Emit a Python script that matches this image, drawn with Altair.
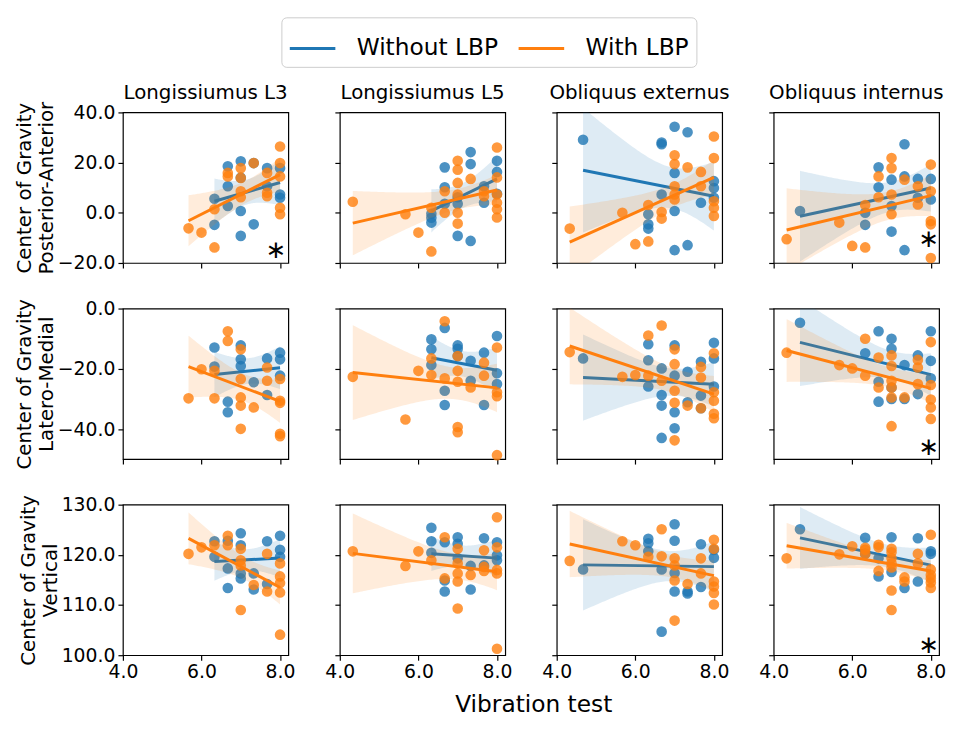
import numpy as np
import pandas as pd
import altair as alt

BLUE = "#1f77b4"
ORANGE = "#ff7f0e"
FONT = "DejaVu Sans"
GROUPS = ["Without LBP", "With LBP"]
COL_TITLES = ["Longissiumus L3", "Longissiumus L5", "Obliquus externus", "Obliquus internus"]
ROW_TITLES = [["Center of Gravity", "Posterior-Anterior"],
              ["Center of Gravity", "Latero-Medial"],
              ["Center of Gravity", "Vertical"]]
X_TICKS = [4, 6, 8]
Y_TICKS = [[-20, 0, 20, 40], [-40, -20, 0], [100, 110, 120, 130]]
X_DOMAIN = [4.0, 8.21]
Y_DOMAINS = [[-20, 40], [-49.8, 0], [100, 130]]

# ---- Row 1: Posterior-Anterior ----
PA_L3_WO = [(6.33, 5.6), (6.33, -4.8), (6.67, 18.5), (6.67, 10.6), (6.67, 2.7), (7.0, 20.5), (7.0, 14.0),
            (7.0, 0.7), (7.0, -9.2), (7.33, 19.8), (7.33, -4.6), (7.67, 17.8), (7.67, 10.6), (8.0, 17.8),
            (8.0, 7.3), (8.0, 6.0)]
PA_L3_WI = [(5.67, -6.2), (6.0, -7.9), (6.33, 1.4), (6.33, -13.8), (6.67, 15.9), (6.67, 14.5), (7.0, 17.8),
            (7.0, 13.9), (7.0, 8.6), (7.0, 6.2), (7.33, 19.8), (7.67, 15.9), (7.67, 8.0), (7.67, 6.6),
            (8.0, 26.4), (8.0, 19.8), (8.0, 14.5), (8.0, 2.0), (8.0, -0.6)]
PA_L5_WO = [(6.33, -0.4), (6.33, -2.0), (6.33, -3.9), (6.67, 18.1), (6.67, 10.2), (6.67, 3.6), (7.0, 6.2),
            (7.0, 3.6), (7.0, -9.2), (7.33, 24.2), (7.33, 19.4), (7.33, -11.2), (7.67, 10.6), (7.67, 4.0),
            (8.0, 20.7), (8.0, 16.3), (8.0, 7.6)]
PA_L5_WI = [(4.33, 4.4), (5.67, -0.6), (6.0, -7.9), (6.33, 2.0), (6.33, -15.4), (6.67, 8.6), (6.67, 0.0),
            (7.0, 20.7), (7.0, 17.2), (7.0, 11.9), (7.0, 7.3), (7.0, 0.0), (7.0, -4.3), (7.33, 13.5),
            (7.67, 8.6), (7.67, 6.6), (8.0, 26.0), (8.0, 14.1), (8.0, 7.3), (8.0, 4.0), (8.0, 1.4), (8.0, -1.9)]
PA_OE_WO = [(4.67, 29.1), (6.33, -0.6), (6.33, -4.6), (6.33, -6.3), (6.67, 28.0), (6.67, 27.3), (6.67, 7.3),
            (7.0, 34.3), (7.0, 15.9), (7.0, 0.7), (7.0, -14.9), (7.33, 32.1), (7.33, -12.9), (7.67, 4.0),
            (8.0, 12.6), (8.0, 9.9), (8.0, 6.0)]
PA_OE_WI = [(4.33, -6.3), (5.67, 0.0), (6.0, -12.5), (6.33, 3.1), (6.33, -11.4), (6.67, 0.3), (6.67, -2.3),
            (7.0, 22.9), (7.0, 19.4), (7.0, 10.6), (7.0, 7.3), (7.0, 5.3), (7.33, 18.1), (7.67, 16.3),
            (7.67, 10.6), (8.0, 30.4), (8.0, 21.8), (8.0, 4.6), (8.0, 2.0), (8.0, -1.3)]
PA_OI_WO = [(4.67, 0.7), (6.33, 0.0), (6.33, -4.8), (6.67, 18.1), (6.67, 10.2), (7.0, 13.2), (7.0, 2.7),
            (7.0, -7.5), (7.33, 27.3), (7.33, 14.5), (7.33, -14.9), (7.67, 13.5), (7.67, 6.0), (8.0, 13.5),
            (8.0, 5.3)]
PA_OI_WI = [(4.33, -10.5), (5.67, -3.9), (6.0, -13.2), (6.33, 3.1), (6.33, -13.8), (6.67, 14.5), (6.67, 6.2),
            (7.0, 21.8), (7.0, 17.8), (7.0, 7.3), (7.0, -0.6), (7.33, 13.2), (7.67, 10.6), (7.67, 3.3),
            (8.0, 19.2), (8.0, 8.6), (8.0, -3.3), (8.0, -4.6), (8.0, -18.0)]

# ---- Row 2: Latero-Medial ----
LM_L3_WO = [(6.33, -12.9), (6.33, -19.2), (6.67, -30.8), (6.67, -34.3), (7.0, -12.2), (7.0, -16.8),
            (7.0, -19.0), (7.33, -24.4), (7.67, -16.5), (7.67, -28.6), (8.0, -14.6), (8.0, -16.8), (8.0, -22.2)]
LM_L3_WI = [(5.67, -29.7), (6.0, -20.1), (6.33, -29.7), (6.33, -20.6), (6.67, -7.5), (6.67, -10.7),
            (7.0, -13.5), (7.0, -23.3), (7.0, -29.4), (7.0, -32.1), (7.0, -39.8), (7.33, -32.7), (7.67, -19.5),
            (7.67, -23.9), (8.0, -23.3), (8.0, -30.5), (8.0, -31.2), (8.0, -41.4), (8.0, -42.2)]
LM_L5_WO = [(6.33, -10.2), (6.33, -13.5), (6.33, -18.7), (6.67, -6.4), (6.67, -27.2), (6.67, -31.9),
            (7.0, -12.2), (7.0, -13.3), (7.0, -15.7), (7.33, -17.3), (7.33, -23.9), (7.67, -14.6),
            (7.67, -31.9), (8.0, -9.1), (8.0, -21.4), (8.0, -25.0)]
LM_L5_WI = [(4.33, -22.6), (5.67, -36.7), (6.0, -20.6), (6.33, -16.5), (6.33, -22.0), (6.67, -4.2),
            (6.67, -23.1), (7.0, -15.7), (7.0, -20.6), (7.0, -24.2), (7.0, -39.2), (7.0, -40.9), (7.33, -26.1),
            (7.67, -17.9), (7.67, -22.2), (8.0, -12.9), (8.0, -27.7), (8.0, -29.0), (8.0, -48.5)]
LM_OE_WO = [(4.67, -16.5), (6.33, -11.8), (6.33, -17.1), (6.33, -25.8), (6.67, -19.8), (6.67, -28.6),
            (6.67, -32.1), (6.67, -42.8), (7.0, -12.2), (7.0, -22.2), (7.0, -34.3), (7.0, -39.6), (7.33, -20.9),
            (7.33, -31.0), (7.67, -17.6), (7.67, -28.8), (7.67, -33.0), (8.0, -11.3), (8.0, -16.5), (8.0, -25.8)]
LM_OE_WI = [(4.33, -14.4), (5.67, -22.6), (6.0, -22.0), (6.33, -8.9), (6.33, -22.2), (6.67, -5.6),
            (6.67, -23.9), (7.0, -13.5), (7.0, -18.4), (7.0, -27.2), (7.0, -31.2), (7.0, -43.6), (7.33, -32.1),
            (7.67, -19.3), (7.67, -22.8), (7.67, -33.0), (8.0, -14.8), (8.0, -27.7), (8.0, -30.5),
            (8.0, -34.8), (8.0, -36.3)]
LM_OI_WO = [(4.67, -4.7), (6.33, -14.8), (6.67, -7.5), (6.67, -24.2), (6.67, -30.8), (7.0, -10.0),
            (7.0, -13.3), (7.0, -26.1), (7.0, -29.9), (7.33, -18.7), (7.33, -29.9), (7.67, -15.5),
            (7.67, -28.3), (8.0, -7.5), (8.0, -17.3), (8.0, -23.1)]
LM_OI_WI = [(4.33, -14.6), (5.67, -18.7), (6.0, -19.8), (6.33, -10.0), (6.33, -22.2), (6.67, -16.2),
            (6.67, -26.1), (7.0, -15.5), (7.0, -19.0), (7.0, -23.9), (7.0, -26.1), (7.0, -29.4), (7.0, -38.9),
            (7.33, -29.4), (7.67, -17.0), (7.67, -19.5), (7.67, -25.0), (8.0, -11.1), (8.0, -25.3),
            (8.0, -30.1), (8.0, -32.7), (8.0, -36.5)]

# ---- Row 3: Vertical ----
VT_L3_WO = [(6.33, 122.7), (6.33, 119.6), (6.67, 122.8), (6.67, 117.3), (6.67, 113.4), (7.0, 124.3),
            (7.0, 121.9), (7.0, 116.3), (7.0, 115.3), (7.33, 116.3), (7.33, 113.1), (7.67, 122.7),
            (7.67, 114.2), (8.0, 123.8), (8.0, 121.0), (8.0, 119.6)]
VT_L3_WI = [(5.67, 120.2), (6.0, 121.5), (6.33, 121.9), (6.67, 123.8), (6.67, 121.9), (7.0, 121.2),
            (7.0, 118.9), (7.0, 117.9), (7.0, 109.0), (7.33, 114.0), (7.67, 120.2), (7.67, 112.7),
            (8.0, 118.3), (8.0, 115.7), (8.0, 114.4), (8.0, 112.5), (8.0, 104.1)]
VT_L5_WO = [(6.33, 125.4), (6.33, 122.7), (6.33, 120.4), (6.67, 122.5), (6.67, 114.9), (6.67, 112.7),
            (7.0, 123.5), (7.0, 122.2), (7.0, 119.3), (7.33, 117.8), (7.33, 113.1), (7.67, 123.3),
            (7.67, 117.9), (8.0, 122.5), (8.0, 119.9), (8.0, 118.9)]
VT_L5_WI = [(4.33, 120.7), (5.67, 117.8), (6.0, 120.7), (6.33, 118.9), (6.67, 123.5), (6.67, 115.3),
            (7.0, 121.2), (7.0, 118.3), (7.0, 116.3), (7.0, 114.7), (7.0, 109.3), (7.33, 116.0),
            (7.67, 120.9), (7.67, 117.6), (7.67, 116.8), (8.0, 127.5), (8.0, 121.5), (8.0, 117.0),
            (8.0, 116.3), (8.0, 101.3)]
VT_OE_WO = [(4.67, 117.1), (6.33, 123.2), (6.33, 122.3), (6.33, 120.7), (6.67, 117.1), (6.67, 104.7),
            (7.0, 126.1), (7.0, 122.8), (7.0, 116.4), (7.0, 112.7), (7.33, 112.7), (7.33, 112.3),
            (7.67, 122.1), (7.67, 113.6), (8.0, 121.0), (8.0, 119.4)]
VT_OE_WI = [(4.33, 118.8), (5.67, 122.7), (6.0, 121.9), (6.33, 119.6), (6.67, 125.1), (6.67, 119.7),
            (7.0, 119.3), (7.0, 117.9), (7.0, 114.9), (7.0, 106.9), (7.33, 114.2), (7.67, 119.3),
            (7.67, 116.3), (8.0, 123.0), (8.0, 121.2), (8.0, 114.7), (8.0, 113.7), (8.0, 112.4), (8.0, 110.1)]
VT_OI_WO = [(4.67, 125.1), (6.33, 123.4), (6.33, 120.2), (6.67, 119.3), (6.67, 115.7), (7.0, 123.5),
            (7.0, 116.6), (7.33, 113.4), (7.67, 123.3), (7.67, 114.7), (8.0, 120.7), (8.0, 120.2)]
VT_OI_WI = [(4.33, 119.3), (5.67, 120.1), (6.0, 121.7), (6.33, 121.4), (6.33, 121.0), (6.33, 120.2),
            (6.67, 122.0), (6.67, 121.5), (6.67, 116.8), (7.0, 121.2), (7.0, 120.5), (7.0, 119.3),
            (7.0, 118.3), (7.0, 117.5), (7.0, 112.9), (7.0, 109.0), (7.33, 115.5), (7.33, 114.7),
            (7.67, 120.2), (7.67, 118.3), (8.0, 124.0), (8.0, 117.1), (8.0, 116.0), (8.0, 115.3),
            (8.0, 114.5), (8.0, 113.4)]

PANELS = [
    [(PA_L3_WO, PA_L3_WI), (PA_L5_WO, PA_L5_WI), (PA_OE_WO, PA_OE_WI), (PA_OI_WO, PA_OI_WI)],
    [(LM_L3_WO, LM_L3_WI), (LM_L5_WO, LM_L5_WI), (LM_OE_WO, LM_OE_WI), (LM_OI_WO, LM_OI_WI)],
    [(VT_L3_WO, VT_L3_WI), (VT_L5_WO, VT_L5_WI), (VT_OE_WO, VT_OE_WI), (VT_OI_WO, VT_OI_WI)],
]

# significance markers: (row, col, x, y)
STARS = [(0, 0, 7.9, -14.9), (0, 3, 7.95, -10.4), (1, 3, 7.95, -45.8), (2, 3, 7.95, 102.1)]

W, H = 167, 152

COLOR_SCALE = alt.Scale(domain=GROUPS, range=[BLUE, ORANGE])
LEGEND = alt.Legend(orient="none", legendX=160, legendY=-96, direction="horizontal", title=None,
                    labelFontSize=23.5, labelFont=FONT, labelColor="black", labelLimit=400,
                    symbolType="stroke", symbolSize=2116, symbolStrokeWidth=3, labelOffset=20,
                    columnPadding=14, padding=7, strokeColor="#cccccc", cornerRadius=5,
                    fillColor="white")


def band_df(pts):
    a = np.array(pts, dtype=float)
    x, y = a[:, 0], a[:, 1]
    n = len(x)
    xb = x.mean()
    sxx = ((x - xb) ** 2).sum()
    b = ((x - xb) * (y - y.mean())).sum() / sxx
    c = y.mean() - b * xb
    s = np.sqrt(((y - (c + b * x)) ** 2).sum() / (n - 2))
    g = np.linspace(x.min(), x.max(), 80)
    half = 2.1 * s * np.sqrt(1.0 / n + (g - xb) ** 2 / sxx)
    return pd.DataFrame({"x": g, "lo": c + b * g - half, "hi": c + b * g + half})


def panel(ri, ci):
    wo, wi = PANELS[ri][ci]
    xs = alt.Scale(domain=X_DOMAIN, nice=False, zero=False)
    ys = alt.Scale(domain=Y_DOMAINS[ri], nice=False, zero=False)
    xaxis = alt.Axis(values=X_TICKS, format=".1f", labels=(ri == 2), title=None)
    if ci == 0:
        yaxis = alt.Axis(values=Y_TICKS[ri], format=".1f", labels=True, title=ROW_TITLES[ri])
    else:
        yaxis = alt.Axis(values=Y_TICKS[ri], format=".1f", labels=False, title=None)

    def X(f):
        return alt.X(f, type="quantitative", scale=xs, axis=xaxis)

    def Y(f):
        return alt.Y(f, type="quantitative", scale=ys, axis=yaxis)

    layers = []
    for pts, col, name in ((wo, BLUE, GROUPS[0]), (wi, ORANGE, GROUPS[1])):
        df = pd.DataFrame(pts, columns=["x", "y"])
        df["g"] = name
        pts_layer = alt.Chart(df).mark_circle(size=115, opacity=0.8, color=col).encode(x=X("x"), y=Y("y"))
        band = alt.Chart(band_df(pts)).mark_area(color=col, opacity=0.15, clip=True).encode(
            x=X("x"), y=Y("lo"), y2="hi")
        line = alt.Chart(df).transform_regression("x", "y", groupby=["g"]).mark_line(
            strokeWidth=3, clip=True).encode(
            x=X("x"), y=Y("y"), color=alt.Color("g:N", scale=COLOR_SCALE, legend=LEGEND))
        layers += [pts_layer, band, line]

    stars = [(sx, sy) for (r, c, sx, sy) in STARS if r == ri and c == ci]
    if stars:
        sdf = pd.DataFrame(stars, columns=["x", "y"])
        layers.append(alt.Chart(sdf).mark_text(text="\u2217", fontSize=25, font=FONT, color="black",
                                               baseline="middle").encode(x=X("x"), y=Y("y")))

    ch = alt.layer(*layers).properties(width=W, height=H)
    if ri == 0:
        ch = ch.properties(title=alt.Title(COL_TITLES[ci], fontSize=20, font=FONT, fontWeight="normal",
                                           color="black", offset=9, dy=(11 if ci == 0 else 0)))
    return ch


charts = [panel(r, c) for r in range(3) for c in range(4)]

chart = alt.concat(*charts, columns=4).properties(
    spacing={"row": 46, "column": 52},
    bounds="flush",
    padding={"left": 6, "top": 5, "right": 0, "bottom": 1},
    title=alt.Title("Vibration test", orient="bottom", anchor="middle", fontSize=23.5, font=FONT,
                    fontWeight="normal", color="black", offset=11, dx=54),
).configure_view(
    stroke="black", strokeWidth=1.2
).configure_axis(
    domain=False, grid=False, ticks=True, tickSize=5, tickColor="black", tickWidth=1.2,
    labelFontSize=19, labelFont=FONT, labelColor="black", labelPadding=3, labelFlush=False,
    titleFont=FONT, titleFontSize=20, titleFontWeight="normal", titleColor="black",
    titlePadding=1, titleLineHeight=22
)

chart.save("out.html", embed_options={"renderer": "svg", "actions": False})
